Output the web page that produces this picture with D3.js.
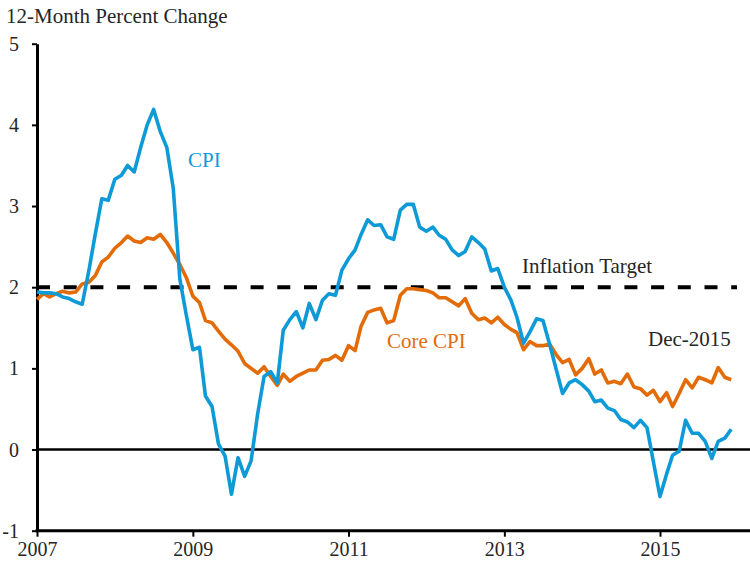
<!DOCTYPE html>
<html>
<head>
<meta charset="utf-8">
<script src="https://cdn.jsdelivr.net/npm/d3@7"></script>
<style>
  body { margin: 0; background: #fff; }
  svg text { font-family: "Liberation Serif", "Times New Roman", serif !important; }
</style>
</head>
<body>
<div id="chart"></div>
<script>
// monthly data, Jan 2007 .. Dec 2015
var startYear = 2007;

var cpi = [
  1.94, 1.93, 1.93, 1.92, 1.88, 1.86, 1.82, 1.79, 2.20, 2.65, 3.09, 3.07,
  3.33, 3.38, 3.50, 3.42, 3.72, 4.00, 4.19, 3.92, 3.72, 3.22, 2.10, 1.66,
  1.23, 1.26, 0.66, 0.53, 0.07, -0.08, -0.55, -0.10, -0.33, -0.14, 0.44, 0.90,
  0.96, 0.82, 1.47, 1.60, 1.70, 1.50, 1.80, 1.60, 1.84, 1.92, 1.90, 2.21,
  2.35, 2.46, 2.65, 2.83, 2.76, 2.77, 2.62, 2.59, 2.95, 3.02, 3.02, 2.74,
  2.69, 2.74, 2.64, 2.59, 2.46, 2.39, 2.44, 2.62, 2.55, 2.47, 2.20, 2.23,
  2.00, 1.84, 1.63, 1.31, 1.45, 1.61, 1.59, 1.30, 0.99, 0.69, 0.82, 0.86,
  0.80, 0.72, 0.59, 0.61, 0.51, 0.48, 0.37, 0.34, 0.27, 0.36, 0.27, -0.15,
  -0.58, -0.30, -0.07, -0.02, 0.36, 0.20, 0.20, 0.10, -0.11, 0.10, 0.14, 0.25
];

var coreCpi = [
  1.85, 1.92, 1.88, 1.92, 1.95, 1.93, 1.94, 2.04, 2.06, 2.14, 2.31, 2.37,
  2.48, 2.55, 2.63, 2.57, 2.55, 2.61, 2.59, 2.65, 2.55, 2.42, 2.28, 2.12,
  1.89, 1.81, 1.59, 1.56, 1.46, 1.36, 1.29, 1.21, 1.06, 1.00, 0.94, 1.02,
  0.90, 0.79, 0.93, 0.84, 0.90, 0.94, 0.98, 0.98, 1.10, 1.11, 1.16, 1.10,
  1.28, 1.22, 1.52, 1.69, 1.72, 1.74, 1.56, 1.59, 1.90, 1.98, 1.98, 1.97,
  1.96, 1.93, 1.87, 1.87, 1.82, 1.77, 1.86, 1.68, 1.60, 1.62, 1.56, 1.63,
  1.54, 1.48, 1.44, 1.23, 1.33, 1.28, 1.28, 1.30, 1.17, 1.07, 1.11, 0.92,
  1.00, 1.12, 0.93, 0.98, 0.82, 0.84, 0.81, 0.93, 0.77, 0.75, 0.67, 0.73,
  0.59, 0.70, 0.53, 0.69, 0.86, 0.76, 0.89, 0.86, 0.82, 1.01, 0.89, 0.86
];

var yTicks = [-1, 0, 1, 2, 3, 4, 5];
var xTickYears = [2007, 2009, 2011, 2013, 2015];
var target = 2;

// width and height
var w = 750;
var h = 562;

var x = d3.scaleTime()
  .domain([new Date(2007, 0, 1), new Date(2015, 0, 1)])
  .range([37, 660]);

var y = d3.scaleLinear()
  .domain([-1, 5])
  .range([530.7, 43.7]);

var svg = d3.select("#chart")
  .append("svg")
  .attr("width", w)
  .attr("height", h);

var blue = "#0E9AD6";
var orange = "#E36C09";
var ink = "#262626";

// title
svg.append("text")
  .attr("x", 6)
  .attr("y", 22.5)
  .attr("fill", ink)
  .style("font-size", "21px")
  .text("12-Month Percent Change");

// zero line
svg.append("line")
  .attr("x1", x(new Date(2007, 0, 1)))
  .attr("x2", w)
  .attr("y1", y(0))
  .attr("y2", y(0))
  .attr("stroke", "#000")
  .attr("stroke-width", 2.5);

// y axis
var yAxis = svg.append("g")
  .attr("transform", "translate(" + x(new Date(2007, 0, 1)) + ",0)")
  .call(d3.axisLeft(y).tickValues(yTicks).tickSize(5).tickSizeOuter(0)
    .tickFormat(function(d) { return String(d); }));
yAxis.select(".domain").attr("stroke", "#000").attr("stroke-width", 3);
yAxis.selectAll(".tick line").attr("stroke", "#000").attr("stroke-width", 2);
yAxis.selectAll(".tick text")
  .attr("x", -18)
  .attr("dy", "0.33em")
  .style("font-size", "20px")
  .attr("fill", ink);

// x axis
var xAxis = svg.append("g")
  .attr("transform", "translate(0," + y(-1) + ")")
  .call(d3.axisBottom(x)
    .tickValues(xTickYears.map(function(yr) { return new Date(yr, 0, 1); }))
    .tickSize(6)
    .tickSizeOuter(0)
    .tickFormat(d3.timeFormat("%Y")));
xAxis.select(".domain").remove();
xAxis.append("line")
  .attr("x1", x(new Date(2007, 0, 1)) - 1.5)
  .attr("x2", w)
  .attr("stroke", "#000")
  .attr("stroke-width", 3);
xAxis.selectAll(".tick line").attr("stroke", "#000").attr("stroke-width", 2);
xAxis.selectAll(".tick text")
  .attr("y", 25.5)
  .attr("dy", null)
  .style("font-size", "20px")
  .attr("fill", ink);

// inflation target
svg.append("line")
  .attr("x1", x(new Date(2007, 0, 1)))
  .attr("x2", 737)
  .attr("y1", y(target))
  .attr("y2", y(target))
  .attr("stroke", "#000")
  .attr("stroke-width", 4)
  .attr("stroke-dasharray", "13,13.7");

// series
var line = d3.line()
  .x(function(d, i) { return x(new Date(startYear, i, 1)); })
  .y(function(d) { return y(d); });

svg.append("path")
  .datum(coreCpi)
  .attr("fill", "none")
  .attr("stroke", orange)
  .attr("stroke-width", 3.6)
  .attr("stroke-linejoin", "round")
  .attr("d", line);

svg.append("path")
  .datum(cpi)
  .attr("fill", "none")
  .attr("stroke", blue)
  .attr("stroke-width", 3.6)
  .attr("stroke-linejoin", "round")
  .attr("d", line);

// labels
svg.append("text")
  .attr("x", 188)
  .attr("y", 167)
  .attr("fill", blue)
  .style("font-size", "21px")
  .text("CPI");

svg.append("text")
  .attr("x", 387)
  .attr("y", 348)
  .attr("fill", orange)
  .style("font-size", "21px")
  .text("Core CPI");

svg.append("text")
  .attr("x", 522)
  .attr("y", 273)
  .attr("fill", ink)
  .style("font-size", "21px")
  .text("Inflation Target");

svg.append("text")
  .attr("x", 648)
  .attr("y", 346)
  .attr("fill", ink)
  .style("font-size", "21px")
  .text("Dec-2015");
</script>
</body>
</html>
